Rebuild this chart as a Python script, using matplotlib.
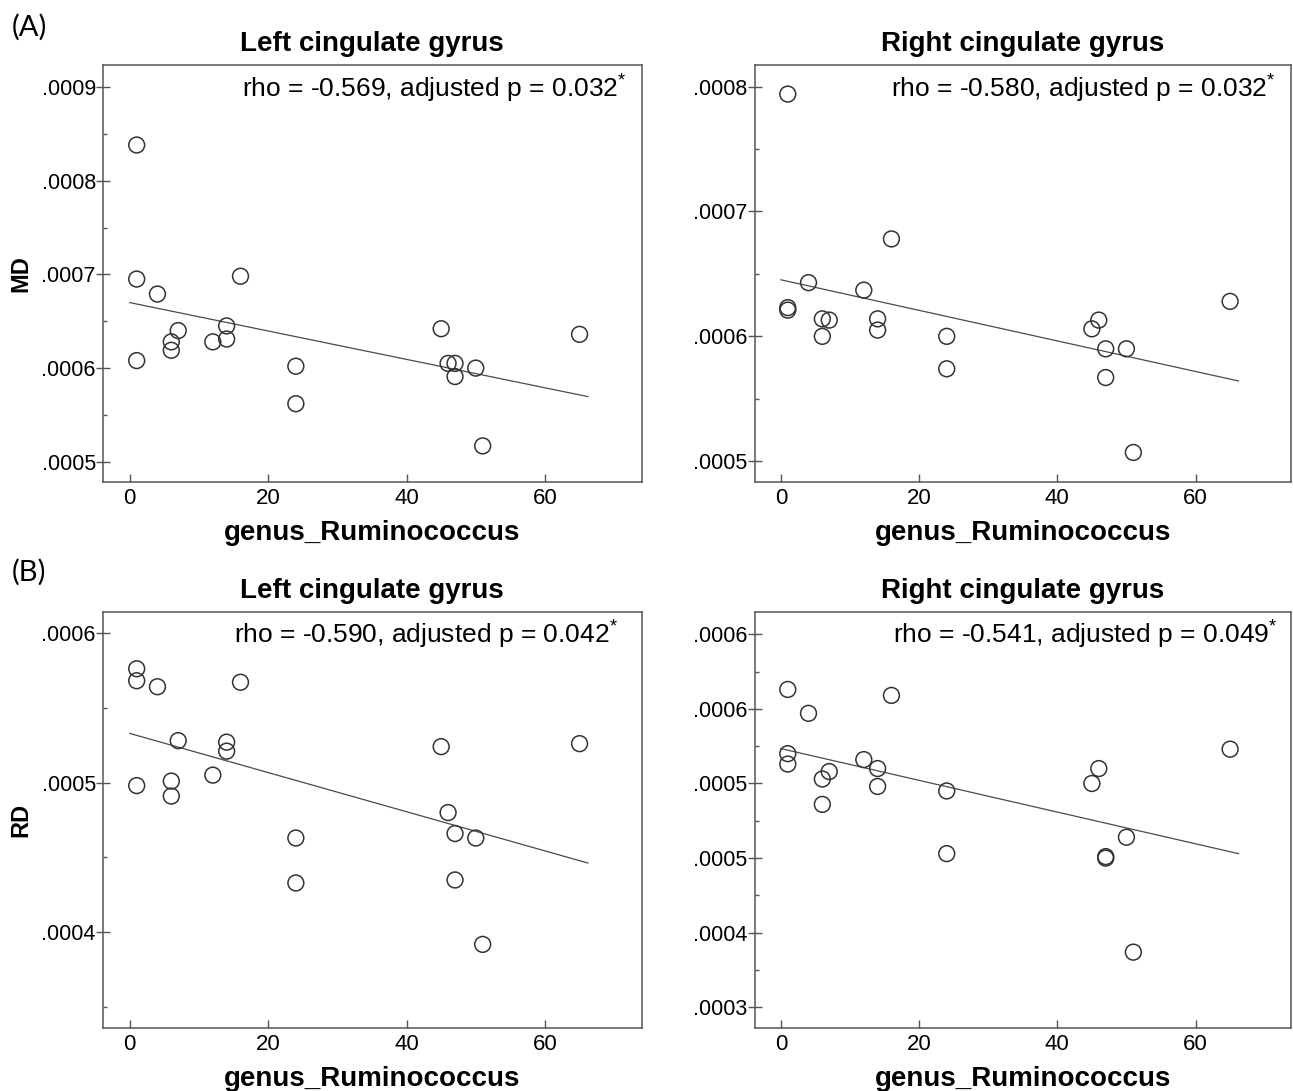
import numpy as np
import matplotlib
matplotlib.use("Agg")
import matplotlib.pyplot as plt
from matplotlib.ticker import FixedLocator, FixedFormatter

plt.rcParams['font.family'] = ['Liberation Sans', 'DejaVu Sans']
plt.rcParams['mathtext.fontset'] = 'custom'
plt.rcParams['mathtext.rm'] = 'Liberation Sans'
plt.rcParams['mathtext.default'] = 'regular'

# genus_Ruminococcus abundance (same 20 subjects in every panel)
ruminococcus = [1, 1, 1, 4, 6, 6, 7, 12, 14, 14, 16, 24, 24, 45, 46, 47, 47, 50, 51, 65]

md_left = [0.000838, 0.000695, 0.000608, 0.000679, 0.000628, 0.000619, 0.000640, 0.000628,
           0.000645, 0.000631, 0.000698, 0.000602, 0.000562, 0.000642, 0.000605, 0.000605,
           0.000591, 0.000600, 0.000517, 0.000636]
md_right = [0.000794, 0.000623, 0.000621, 0.000643, 0.000614, 0.000600, 0.000613, 0.000637,
            0.000614, 0.000605, 0.000678, 0.000600, 0.000574, 0.000606, 0.000613, 0.000590,
            0.000567, 0.000590, 0.000507, 0.000628]
rd_left = [0.000576, 0.000568, 0.000498, 0.000564, 0.000501, 0.000491, 0.000528, 0.000505,
           0.000527, 0.000521, 0.000567, 0.000463, 0.000433, 0.000524, 0.000480, 0.000466,
           0.000435, 0.000463, 0.000392, 0.000526]
rd_right = [0.000563, 0.000520, 0.000513, 0.000547, 0.000503, 0.000486, 0.000508, 0.000516,
            0.000510, 0.000498, 0.000559, 0.000495, 0.000453, 0.000500, 0.000510, 0.000451,
            0.000450, 0.000464, 0.000387, 0.000523]

x_ticks = [0, 20, 40, 60]

md_left_ticks = [0.0005, 0.0006, 0.0007, 0.0008, 0.0009]
md_left_labels = ['.0005', '.0006', '.0007', '.0008', '.0009']
md_right_ticks = [0.0005, 0.0006, 0.0007, 0.0008]
md_right_labels = ['.0005', '.0006', '.0007', '.0008']
rd_left_ticks = [0.0004, 0.0005, 0.0006]
rd_left_labels = ['.0004', '.0005', '.0006']
rd_right_ticks = [0.00035, 0.0004, 0.00045, 0.0005, 0.00055, 0.0006]
rd_right_labels = ['.0003', '.0004', '.0005', '.0005', '.0006', '.0006']

titles = ['Left cingulate gyrus', 'Right cingulate gyrus', 'Left cingulate gyrus', 'Right cingulate gyrus']
stats = ['rho = -0.569, adjusted p = 0.032', 'rho = -0.580, adjusted p = 0.032',
         'rho = -0.590, adjusted p = 0.042', 'rho = -0.541, adjusted p = 0.049']

panels = [
    dict(y=md_left, ticks=md_left_ticks, labels=md_left_labels, ylim=(0.000478, 0.000923),
         xlim=(-3.9, 74.0), ylabel='MD', rect=[0.0795, 0.5578, 0.4169, 0.3823], sx=0.614),
    dict(y=md_right, ticks=md_right_ticks, labels=md_right_labels, ylim=(0.000483, 0.000817),
         xlim=(-3.8, 73.8), ylabel=None, rect=[0.5836, 0.5578, 0.4148, 0.3823], sx=0.612),
    dict(y=rd_left, ticks=rd_left_ticks, labels=rd_left_labels, ylim=(0.000336, 0.000614),
         xlim=(-3.9, 74.0), ylabel='RD', rect=[0.0795, 0.0575, 0.4169, 0.3817], sx=0.600),
    dict(y=rd_right, ticks=rd_right_ticks, labels=rd_right_labels, ylim=(0.000336, 0.000615),
         xlim=(-3.8, 73.8), ylabel=None, rect=[0.5836, 0.0575, 0.4148, 0.3817], sx=0.616),
]

frame_col = '#555555'
mark_col = '#333333'

fig = plt.figure(figsize=(12.93, 10.91), dpi=100)
x = np.array(ruminococcus, dtype=float)

for p, title, stat in zip(panels, titles, stats):
    ax = fig.add_axes(p['rect'])
    y = np.array(p['y'])
    ax.scatter(x, y, s=130, facecolors='none', edgecolors=mark_col, linewidths=1.1, zorder=3)
    k, b = np.polyfit(x, y, 1)
    xl = np.array([0, 66.2])
    ax.plot(xl, k * xl + b, color='#4a4a4a', lw=0.9, zorder=2)

    ax.set_xlim(p['xlim'])
    ax.set_ylim(p['ylim'])
    ax.set_xticks(x_ticks)
    ax.set_xticklabels([str(t) for t in x_ticks])
    ax.yaxis.set_major_locator(FixedLocator(p['ticks']))
    ax.yaxis.set_major_formatter(FixedFormatter(p['labels']))
    t = p['ticks']
    step = t[1] - t[0]
    minors = [v + step / 2 for v in t[:-1]] + [t[0] - step / 2]
    ax.yaxis.set_minor_locator(FixedLocator(minors))

    for s in ax.spines.values():
        s.set_color(frame_col)
        s.set_linewidth(1.1)
    ax.tick_params(axis='x', which='major', direction='in', length=6, width=1.0,
                   color=frame_col, labelsize=16, pad=4)
    ax.tick_params(axis='y', which='major', direction='inout', length=10, width=1.0,
                   color=frame_col, labelsize=15.5, pad=0)
    ax.tick_params(axis='y', which='minor', direction='in', length=3, width=1.0, color=frame_col)

    ax.set_title(title, fontsize=20, fontweight='bold', pad=10)
    ax.set_xlabel('genus_Ruminococcus', fontsize=20, fontweight='bold', labelpad=8)
    if p['ylabel']:
        ax.set_ylabel(p['ylabel'], fontsize=17, fontweight='bold')
        ax.yaxis.set_label_coords(-0.13, 0.5)
    ax.text(p['sx'], 1 - 32 / 417, stat + r'$^{*}$', transform=ax.transAxes,
            ha='center', va='baseline', fontsize=19)

fig.text(12 / 1293, 1 - 27 / 1091, '(A)', fontsize=21, family=['Lato', 'DejaVu Sans'], va='center')
fig.text(12 / 1293, 1 - 572 / 1091, '(B)', fontsize=21, family=['Lato', 'DejaVu Sans'], va='center')

fig.savefig('out.png', dpi=100, facecolor='white')
